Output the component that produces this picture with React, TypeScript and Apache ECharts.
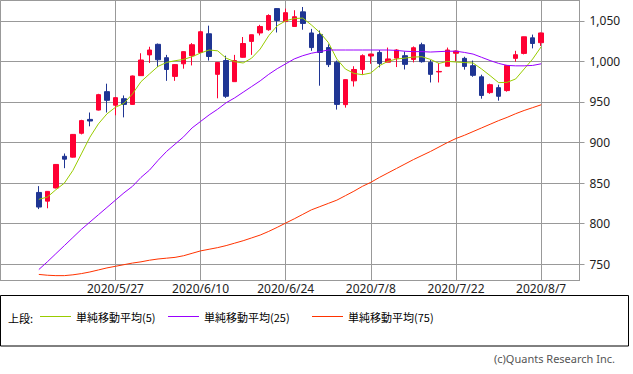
import React, { useEffect, useRef } from "react";
import * as echarts from "echarts";

const dates = [
  "2020/5/14", "2020/5/15", "2020/5/18", "2020/5/19", "2020/5/20", "2020/5/21", "2020/5/22",
  "2020/5/25", "2020/5/26", "2020/5/27", "2020/5/28", "2020/5/29",
  "2020/6/1", "2020/6/2", "2020/6/3", "2020/6/4", "2020/6/5",
  "2020/6/8", "2020/6/9", "2020/6/10", "2020/6/11", "2020/6/12",
  "2020/6/15", "2020/6/16", "2020/6/17", "2020/6/18", "2020/6/19",
  "2020/6/22", "2020/6/23", "2020/6/24", "2020/6/25", "2020/6/26",
  "2020/6/29", "2020/6/30", "2020/7/1", "2020/7/2", "2020/7/3",
  "2020/7/6", "2020/7/7", "2020/7/8", "2020/7/9", "2020/7/10",
  "2020/7/13", "2020/7/14", "2020/7/15", "2020/7/16", "2020/7/17",
  "2020/7/20", "2020/7/21", "2020/7/22",
  "2020/7/27", "2020/7/28", "2020/7/29", "2020/7/30", "2020/7/31",
  "2020/8/3", "2020/8/4", "2020/8/5", "2020/8/6", "2020/8/7",
];

const tickDates = ["2020/5/27", "2020/6/10", "2020/6/24", "2020/7/8", "2020/7/22", "2020/8/7"];

const openV = [
  838.5, 827.8, 844, 883, 882, 911.4, 928.5, 940, 962.7, 946,
  954, 947, 982.4, 1008, 1021, 1004.5, 981.5, 997, 1007, 1011,
  1034, 984, 1001, 975, 1005, 1024.6, 1035, 1039, 1065, 1049,
  1043, 1061, 1035, 1033, 1017, 999, 946.7, 976, 990, 1006.6,
  1011, 999, 1004, 1007, 1002.4, 1020.5, 998.7, 987, 994, 1010,
  1003.7, 994.7, 981, 961.5, 967.6, 964, 1003.7, 1009.8, 1029, 1023,
];
const closeV = [
  820.5, 839.8, 873, 879.5, 910, 927, 926.5, 959, 952, 955.3,
  947, 982, 1001.7, 1014, 1002, 990, 996, 1012, 1020.5, 1036.5,
  1006, 998.7, 957, 1001, 1022, 1032.8, 1043, 1056.5, 1050.4, 1060,
  1055, 1046.7, 1017, 1011, 996, 947, 977.5, 990, 1007, 1009,
  997.5, 1003, 1014, 996.3, 1016.8, 999.6, 984, 987.6, 1014, 1012.7,
  993.8, 982.8, 958, 971.3, 957, 995, 1008.2, 1030.3, 1022, 1035,
];
const lowV = [
  818, 819, 843.5, 868.4, 881.5, 910, 920, 939.5, 937, 933.6,
  931, 946.5, 982, 998, 993, 976, 976, 991, 995, 1011,
  1001, 954.5, 955, 975, 1004.5, 1008, 1032, 1037.7, 1035.6, 1049,
  1043, 1039, 1013, 970, 993, 940.6, 943, 969, 983.6, 997,
  992.6, 999, 993, 990, 998.7, 998.4, 974, 974, 994, 1000,
  989.8, 981, 954, 960, 951.6, 962.7, 999.6, 1008.6, 1016, 1019,
];
const highV = [
  846.3, 840.2, 873.5, 886.5, 910.5, 928, 937, 960, 972.5, 955.6,
  958, 982.5, 1010, 1018, 1022, 1008, 996.3, 1012.3, 1022.5, 1037.7,
  1044, 999, 1007, 1008, 1030, 1033, 1045, 1058, 1065.5, 1065,
  1063, 1067, 1040, 1038, 1021, 1001, 977.8, 994, 1008.6, 1009.5,
  1014, 1017, 1015, 1012, 1018.4, 1023, 1001.7, 998, 1017, 1013.5,
  1005.7, 1001, 983.6, 972.5, 971.3, 995.5, 1013, 1030.5, 1033, 1035.5,
];

const ma5 = [
  830, 832.8, 841.8, 850, 865.6, 886, 906.6, 923, 935.3, 943.4,
  948.3, 959.9, 975, 984.5, 993.8, 998.7, 1000.8, 1002.4, 1005.7, 1010.3,
  1014, 1013, 1004, 999.6, 998, 1004, 1015.2, 1031.6, 1043.9, 1050,
  1052.8, 1053.3, 1045, 1035.6, 1023.3, 1002.9, 990.6, 985.2, 983.6, 985.7,
  994.7, 1000, 1002.9, 1004, 1005.3, 1005.7, 1002.4, 997.5, 1000, 999.2,
  998.5, 998, 990.6, 982.4, 973.8, 974.2, 978.3, 990.6, 1002.9, 1018,
];
const ma25 = [
  743.5, 753, 763, 773, 783, 793, 802, 811, 820, 829,
  838, 846, 857, 866, 878, 889, 898, 907, 918, 926,
  934, 941, 949, 955, 962, 969, 976, 984, 991, 997,
  1003, 1007, 1010, 1012, 1014, 1014, 1014, 1014, 1014, 1014,
  1014, 1014, 1013.5, 1012.5, 1012, 1012, 1011.5, 1012, 1012.5, 1012.5,
  1011, 1009, 1005, 1001, 997.5, 995, 994.5, 994.5, 995, 997,
];
const ma75 = [
  737.5, 736.5, 736, 736, 737, 738.5, 740.5, 743, 745.5, 747.5,
  749.5, 751.5, 753, 755, 756.5, 757.5, 758.5, 760.5, 763.5, 766.5,
  768.5, 770.5, 773, 776, 779, 782.5, 786, 790.5, 795.5, 800.8,
  806, 811.5, 817, 821, 825, 829, 834.5, 840, 846, 851,
  857, 862.5, 868, 873.5, 879, 884, 889, 894.5, 900, 905,
  909, 913.5, 918, 922.5, 927, 931, 935.5, 939.5, 943, 946.5,
];

const seriesNames = ["単純移動平均(5)", "単純移動平均(25)", "単純移動平均(75)"];
const seriesColors = ["#99cc00", "#9900ff", "#ff3300"];

const padLeft = ["p0", "p1", "p2", "p3"];
const padRight = ["q0", "q1", "q2", "q3"];
const categories = [...padLeft, ...dates, ...padRight];

const UP = "#ff0033";
const DOWN = "#1f3593";
const GRID = "#999999";
const FONT = "'Noto Sans', 'DejaVu Sans', sans-serif";
const JFONT = "'Noto Sans CJK JP', 'Noto Sans', sans-serif";

export default function App() {
  const ref = useRef<HTMLDivElement>(null);
  useEffect(() => {
    if (!ref.current) return;
    const chart = echarts.init(ref.current, null, { renderer: "svg" });
    const candleData = dates.map((d, i) => [d, openV[i], closeV[i], lowV[i], highV[i]]);
    const maList = [ma5, ma25, ma75];
    const legendLefts = [40, 168, 312];
    chart.setOption({
      animation: false,
      backgroundColor: "#ffffff",
      grid: {
        left: 0.5,
        top: 0.5,
        width: 579,
        height: 280,
        show: true,
        borderColor: GRID,
        borderWidth: 1,
        backgroundColor: "#ffffff",
      },
      xAxis: {
        type: "category",
        data: categories,
        boundaryGap: true,
        axisLine: { show: true, lineStyle: { color: GRID } },
        axisTick: { show: false },
        splitLine: { show: false },
        axisLabel: {
          interval: (idx: number, val: string) => tickDates.includes(val),
          fontSize: 12,
          fontFamily: FONT,
          color: "#222",
          margin: 2,
        },
      },
      yAxis: {
        type: "value",
        position: "right",
        min: 730,
        max: 1075,
        splitNumber: 6,
        axisLine: { show: true, lineStyle: { color: GRID } },
        axisTick: { show: true, length: 5, lineStyle: { color: GRID } },
        splitLine: { show: true, lineStyle: { color: GRID, width: 1 } },
        axisLabel: {
          showMinLabel: false,
          showMaxLabel: false,
          formatter: (v: number) => (v % 50 === 0 ? v.toLocaleString("en-US") : ""),
          fontSize: 12,
          fontFamily: FONT,
          color: "#222",
          margin: 10,
        },
      },
      legend: seriesNames.map((n, k) => ({
        data: [n],
        left: legendLefts[k],
        top: 311,
        padding: 0,
        icon: "rect",
        itemWidth: 31,
        itemHeight: 1,
        selectedMode: false,
        textStyle: { fontSize: 11, fontFamily: JFONT, color: "#000" },
      })),
      graphic: [
        {
          type: "rect",
          shape: { x: 0.5, y: 295.5, width: 628, height: 50.5 },
          style: { fill: "none", stroke: "#000", lineWidth: 1 },
          silent: true,
        },
        {
          type: "text",
          x: 8,
          y: 318,
          style: { text: "上段:", fontSize: 11, fontFamily: JFONT, fill: "#000", verticalAlign: "middle" },
          silent: true,
        },
        {
          type: "text",
          x: 615,
          y: 358,
          style: {
            text: "(c)Quants Research Inc.",
            fontSize: 11,
            fontFamily: FONT,
            fill: "#555",
            align: "right",
            verticalAlign: "middle",
          },
          silent: true,
        },
      ],
      series: [
        {
          type: "candlestick",
          data: candleData,
          encode: { x: 0, y: [1, 2, 3, 4] },
          barWidth: 5,
          itemStyle: {
            color: UP,
            color0: DOWN,
            borderColor: UP,
            borderColor0: DOWN,
            borderColorDoji: UP,
            borderWidth: 1,
          },
          markLine: {
            silent: true,
            symbol: "none",
            label: { show: false },
            lineStyle: { color: GRID, type: "solid", width: 1 },
            data: tickDates.map((d) => ({ xAxis: d })),
            z: 1,
          },
        },
        ...seriesNames.map((n, k) => ({
          type: "line",
          name: n,
          data: dates.map((d, i) => [d, maList[k][i]]),
          showSymbol: false,
          symbol: "none",
          color: seriesColors[k],
          lineStyle: { color: seriesColors[k], width: 1 },
          silent: true,
        })),
      ],
    });
    return () => chart.dispose();
  }, []);
  return (
    <div
      ref={ref}
      style={{ position: "fixed", left: 0, top: 0, width: 633, height: 374, background: "#fff" }}
    />
  );
}
